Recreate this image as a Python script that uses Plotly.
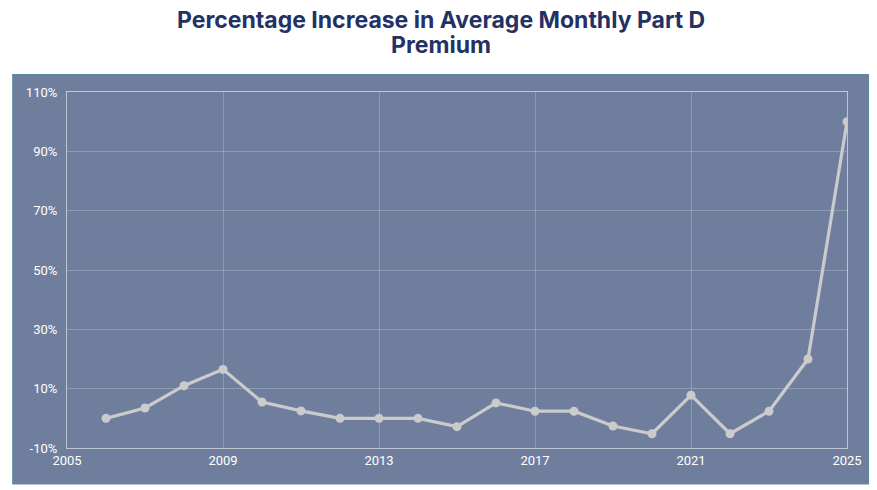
import plotly.graph_objects as go

years = [2006, 2007, 2008, 2009, 2010, 2011, 2012, 2013, 2014, 2015,
         2016, 2017, 2018, 2019, 2020, 2021, 2022, 2023, 2024, 2025]
pct_increase = [0.0, 3.5, 11.0, 16.5, 5.5, 2.5, 0.0, 0.0, 0.0, -2.8,
                5.2, 2.4, 2.4, -2.6, -5.2, 7.8, -5.2, 2.4, 20.0, 100.0]
y_ticks = [-10, 10, 30, 50, 70, 90, 110]
x_ticks = [2005, 2009, 2013, 2017, 2021, 2025]
title_lines = ["Percentage Increase in Average Monthly Part D", "Premium"]

BG = "#6f7e9d"
fig = go.Figure()
fig.add_trace(go.Scatter(
    x=years, y=pct_increase, mode="lines+markers",
    line=dict(color="#cbcbce", width=3.2),
    marker=dict(color="#cbcbce", size=9),
    hoverinfo="x+y", showlegend=False,
))

fig.add_shape(type="rect", xref="paper", yref="paper",
              x0=-0.0695, x1=1.0275, y0=-0.101, y1=1.0486,
              fillcolor=BG, line=dict(color="#5b8aa0", width=1.2), layer="below")

for text, yy in zip(title_lines, [1.201, 1.133]):
    fig.add_annotation(text=f"<b>{text}</b>", xref="paper", yref="paper",
                       x=0.479, y=yy, xanchor="center", yanchor="middle", showarrow=False,
                       font=dict(family="Inter", size=23, color="#233163", weight=900))

axis_common = dict(showline=True, mirror=True, linecolor="rgba(255,255,255,0.55)", linewidth=1.2,
                   gridcolor="rgba(255,255,255,0.22)", gridwidth=1, zeroline=False,
                   tickfont=dict(family="Roboto", size=13, color="#ffffff"), ticks="")
fig.update_xaxes(range=[2005, 2025], tickvals=x_ticks, ticktext=[str(t) for t in x_ticks],
                 **axis_common)
fig.update_yaxes(range=[-10, 110], tickvals=y_ticks, ticktext=[f"{t}%" for t in y_ticks],
                 ticklabelstandoff=6, **axis_common)

fig.update_layout(
    width=877, height=490,
    margin=dict(l=67, r=30, t=92, b=42),
    paper_bgcolor="white", plot_bgcolor=BG,
)
fig.write_html("out.html", config={"displayModeBar": False},
               post_script="document.body.style.margin='0';document.body.style.overflow='hidden';")
